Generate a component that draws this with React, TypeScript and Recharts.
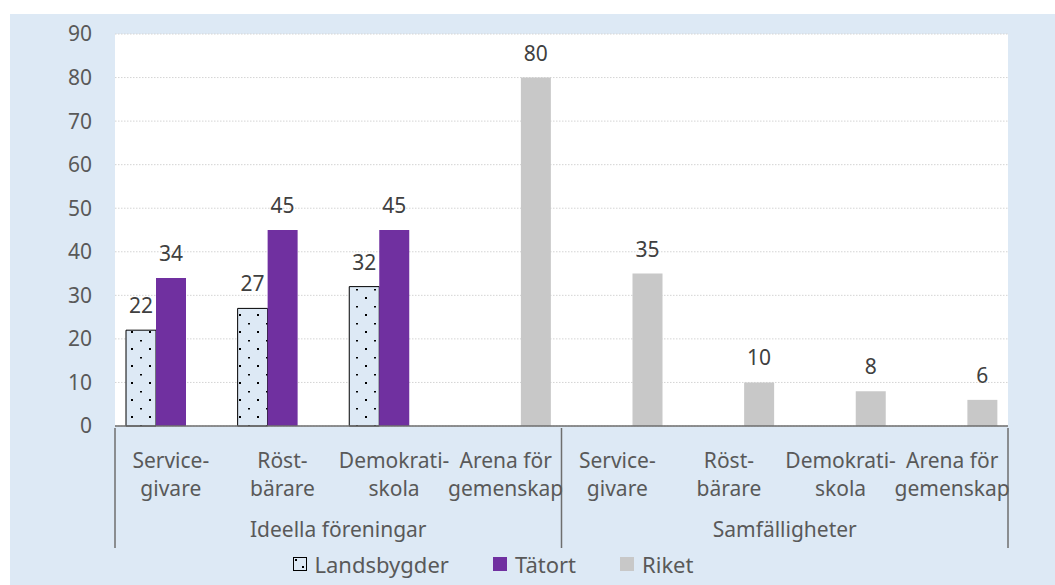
import { BarChart, Bar, XAxis, YAxis, CartesianGrid, Legend, LabelList } from 'recharts'

const categories = [
  'Service-\ngivare', 'Röst-\nbärare', 'Demokrati-\nskola', 'Arena för\ngemenskap',
  'Service-\ngivare', 'Röst-\nbärare', 'Demokrati-\nskola', 'Arena för\ngemenskap',
]
const groups = [
  'Ideella föreningar', 'Ideella föreningar', 'Ideella föreningar', 'Ideella föreningar',
  'Samfälligheter', 'Samfälligheter', 'Samfälligheter', 'Samfälligheter',
]
const landsbygder = [22, 27, 32, null, null, null, null, null]
const tatort = [34, 45, 45, null, null, null, null, null]
const riket = [null, null, null, 80, 35, 10, 8, 6]
const yTicks = [0, 10, 20, 30, 40, 50, 60, 70, 80, 90]

const data = categories.map((c, i) => ({
  id: i,
  name: c,
  group: groups[i],
  landsbygder: landsbygder[i],
  tatort: tatort[i],
  riket: riket[i],
}))

const FONT = '"Noto Sans", sans-serif'
const TEXT = '#595959'
const BG = '#dde9f5'
const PURPLE = '#7030a0'
const GRAY = '#c8c8c8'
const LINE = '#6e6e6e'

const W = 1045
const H = 571
const M = { top: 20, right: 47, left: 0, bottom: 0 }
const Y_W = 105
const BAND = (W - M.right - Y_W) / categories.length

function CatTick(props: any) {
  const { x, y, payload, index } = props
  const lines = String(categories[payload.value] ?? '').split('\n')
  const sep: number[] = []
  if (index === 0) sep.push(x - BAND / 2)
  if (index === 3 || index === 7) sep.push(x + BAND / 2)
  return (
    <g>
      {sep.map((sx, k) => (
        <line key={k} x1={sx} x2={sx} y1={y} y2={y + 120} stroke={LINE} strokeWidth={1.5} />
      ))}
      <text x={x} y={y + 40} textAnchor="middle" fill={TEXT} fontSize={21} fontFamily={FONT}>
        {lines.map((l, k) => (
          <tspan key={k} x={x} dy={k === 0 ? 0 : 28}>{l}</tspan>
        ))}
      </text>
    </g>
  )
}

function GroupTick(props: any) {
  const { x, y, payload } = props
  return (
    <text x={x} y={y + 21} textAnchor="middle" fill={TEXT} fontSize={21} fontFamily={FONT}>
      {payload.value}
    </text>
  )
}

function LegendContent() {
  const items = [
    { label: 'Landsbygder', kind: 'dots' },
    { label: 'Tätort', color: PURPLE },
    { label: 'Riket', color: GRAY },
  ]
  return (
    <div style={{ height: 37, boxSizing: 'border-box', paddingBottom: 6, display: 'flex', justifyContent: 'center', alignItems: 'center', paddingRight: 32, gap: 44, fontFamily: FONT, fontSize: 22, color: TEXT }}>
      {items.map((it) => (
        <div key={it.label} style={{ display: 'flex', alignItems: 'center', gap: 8 }}>
          {it.kind === 'dots' ? (
            <svg width={14} height={14}>
              <rect x={0.5} y={0.5} width={13} height={13} fill={BG} stroke="#000" strokeWidth={1} />
              <rect x={2} y={2} width={2} height={2} fill="#000" />
              <rect x={9} y={9} width={2} height={2} fill="#000" />
            </svg>
          ) : (
            <div style={{ width: 14, height: 14, background: it.color }} />
          )}
          <span>{it.label}</span>
        </div>
      ))}
    </div>
  )
}

export default function App() {
  return (
    <div style={{ position: 'absolute', left: 0, top: 0, width: 1055, height: 585, background: '#fff' }}>
      <div style={{ position: 'absolute', left: 10, top: 14, width: W, height: H, background: BG }}>
        <BarChart width={W} height={H} data={data} margin={M} barGap={0} barSize={30}>
          <defs>
            <pattern id="dots" width={18} height={17} patternUnits="userSpaceOnUse">
              <rect width={18} height={17} fill={BG} />
              <rect x={4} y={3} width={2} height={1.5} fill="#000" />
              <rect x={13} y={11} width={2} height={2} fill="#000" />
            </pattern>
          </defs>
          <CartesianGrid vertical={false} fill="#fff" stroke="#d4d4d4" strokeDasharray="1.5 1.5" />
          <XAxis
            dataKey="id"
            xAxisId={0}
            tick={<CatTick />}
            tickLine={false}
            axisLine={{ stroke: LINE, strokeWidth: 1.5 }}
            tickSize={0}
            height={88}
            interval={0}
          />
          <XAxis
            dataKey="group"
            xAxisId="grp"
            allowDuplicatedCategory={false}
            tick={<GroupTick />}
            tickLine={false}
            axisLine={false}
            tickSize={0}
            height={34}
            interval={0}
          />
          <YAxis
            domain={[0, 90]}
            ticks={yTicks}
            width={Y_W}
            tick={{ fontSize: 21, fill: TEXT, fontFamily: FONT }}
            tickLine={false}
            axisLine={false}
            tickSize={0}
            tickMargin={23}
            interval={0}
          />
          <Legend verticalAlign="bottom" content={<LegendContent />} />
          <Bar dataKey="landsbygder" name="Landsbygder" fill="url(#dots)" stroke="#000" strokeWidth={1} isAnimationActive={false}>
            <LabelList dataKey="landsbygder" position="top" offset={17} fill="#404040" fontSize={21} fontFamily={FONT} />
          </Bar>
          <Bar dataKey="tatort" name="Tätort" fill={PURPLE} isAnimationActive={false}>
            <LabelList dataKey="tatort" position="top" offset={17} fill="#404040" fontSize={21} fontFamily={FONT} />
          </Bar>
          <Bar dataKey="riket" name="Riket" fill={GRAY} isAnimationActive={false}>
            <LabelList dataKey="riket" position="top" offset={17} fill="#404040" fontSize={21} fontFamily={FONT} />
          </Bar>
        </BarChart>
      </div>
    </div>
  )
}
